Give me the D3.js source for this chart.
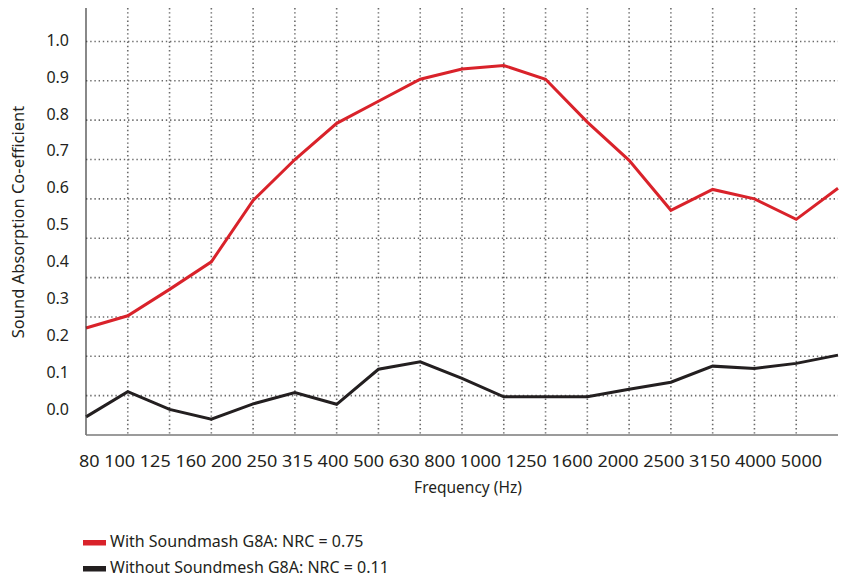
<!DOCTYPE html>
<html>
<head>
<meta charset="utf-8">
<script src="https://cdn.jsdelivr.net/npm/d3@7"></script>
<style>
  body { margin: 0; background: #fff; }
  text { font-family: "Noto Sans", sans-serif; fill: #231f20; }
</style>
</head>
<body>
<div id="chart"></div>
<script>

// frequency bands (Hz)
const freqs = ["80", "100", "125", "160", "200", "250", "315", "400", "500", "630",
  "800", "1000", "1250", "1600", "2000", "2500", "3150", "4000", "5000"];

// absorption coefficients
const withG8A = [0.272, 0.303, 0.37, 0.44, 0.596, 0.70, 0.792, 0.848, 0.904, 0.930,
  0.939, 0.904, 0.795, 0.698, 0.571, 0.624, 0.60, 0.548, 0.627];
const withoutG8A = [0.046, 0.11, 0.065, 0.04, 0.079, 0.108, 0.078, 0.167, 0.186, 0.144,
  0.097, 0.097, 0.097, 0.116, 0.134, 0.175, 0.169, 0.182, 0.203];

const yTicks = [0, 0.1, 0.2, 0.3, 0.4, 0.5, 0.6, 0.7, 0.8, 0.9, 1.0];

const seriesNames = ["With Soundmash G8A: NRC = 0.75", "Without Soundmesh G8A: NRC = 0.11"];
const seriesColors = ["#d9222a", "#231f20"];
const seriesValues = [withG8A, withoutG8A];

const width = 844, height = 577;
const margin = {top: 8, right: 6, bottom: 142, left: 86};

const svg = d3.select("#chart").append("svg")
    .attr("width", width)
    .attr("height", height);

const x = d3.scalePoint()
    .domain(freqs)
    .range([margin.left, width - margin.right]);

const y = d3.scaleLinear()
    .domain([0, 1.085])
    .range([height - margin.bottom, margin.top]);

// the tick labels in the original sit on their own, slightly tighter, spacing
const yLabel = d3.scaleLinear()
    .domain([0, 1])
    .range([409, 40]);

// grid
const grid = svg.append("g")
    .attr("stroke", "#6b6b6b")
    .attr("stroke-width", 1.6)
    .attr("stroke-dasharray", "1.4,2.8")
    .attr("fill", "none");

grid.selectAll(".vgrid")
    .data(freqs.slice(1, -1))
    .enter().append("line")
    .attr("x1", d => x(d)).attr("x2", d => x(d))
    .attr("y1", y(1.085)).attr("y2", y(0));

grid.selectAll(".hgrid")
    .data(yTicks.slice(1))
    .enter().append("line")
    .attr("x1", x.range()[0]).attr("x2", x.range()[1])
    .attr("y1", d => y(d)).attr("y2", d => y(d));

// lines
const line = d3.line()
    .x((d, i) => x(freqs[i]))
    .y(d => y(d));

svg.selectAll(".series")
    .data(seriesValues)
    .enter().append("path")
    .attr("fill", "none")
    .attr("stroke", (d, i) => seriesColors[i])
    .attr("stroke-width", 3)
    .attr("stroke-linejoin", "miter")
    .attr("d", line);

// axes
svg.append("line")
    .attr("x1", x.range()[0]).attr("x2", x.range()[0])
    .attr("y1", y(1.085)).attr("y2", y(0))
    .attr("stroke", "#3a3a3a")
    .attr("stroke-width", 1.2);

svg.append("line")
    .attr("x1", x.range()[0]).attr("x2", x.range()[1])
    .attr("y1", y(0)).attr("y2", y(0))
    .attr("stroke", "#7a7a7a")
    .attr("stroke-width", 1.6);

svg.selectAll(".ylab")
    .data(yTicks)
    .enter().append("text")
    .attr("x", 69)
    .attr("y", d => yLabel(d))
    .attr("dy", "0.36em")
    .attr("text-anchor", "end")
    .style("font-size", "16px")
    .text(d => d.toFixed(1));

// x labels run as one line of text under the axis
svg.append("text")
    .attr("x", 79)
    .attr("y", 467)
    .attr("textLength", 743)
    .attr("lengthAdjust", "spacingAndGlyphs")
    .style("font-size", "16px")
    .text(freqs.join(" "));

svg.append("text")
    .attr("x", 468)
    .attr("y", 493)
    .attr("text-anchor", "middle")
    .style("font-size", "15.5px")
    .text("Frequency (Hz)");

svg.append("text")
    .attr("transform", "translate(24,222) rotate(-90)")
    .attr("text-anchor", "middle")
    .style("font-size", "16.5px")
    .text("Sound Absorption Co-efficient");

// legend
const legend = svg.selectAll(".legend")
    .data(seriesNames)
    .enter().append("g")
    .attr("transform", (d, i) => `translate(83,${542.5 + i * 26})`);

legend.append("rect")
    .attr("x", 0).attr("y", -2.5)
    .attr("width", 23).attr("height", 5.5)
    .attr("fill", (d, i) => seriesColors[i]);

legend.append("text")
    .attr("x", 27)
    .attr("y", 4.5)
    .style("font-size", "16px")
    .text(d => d);

</script>
</body>
</html>
